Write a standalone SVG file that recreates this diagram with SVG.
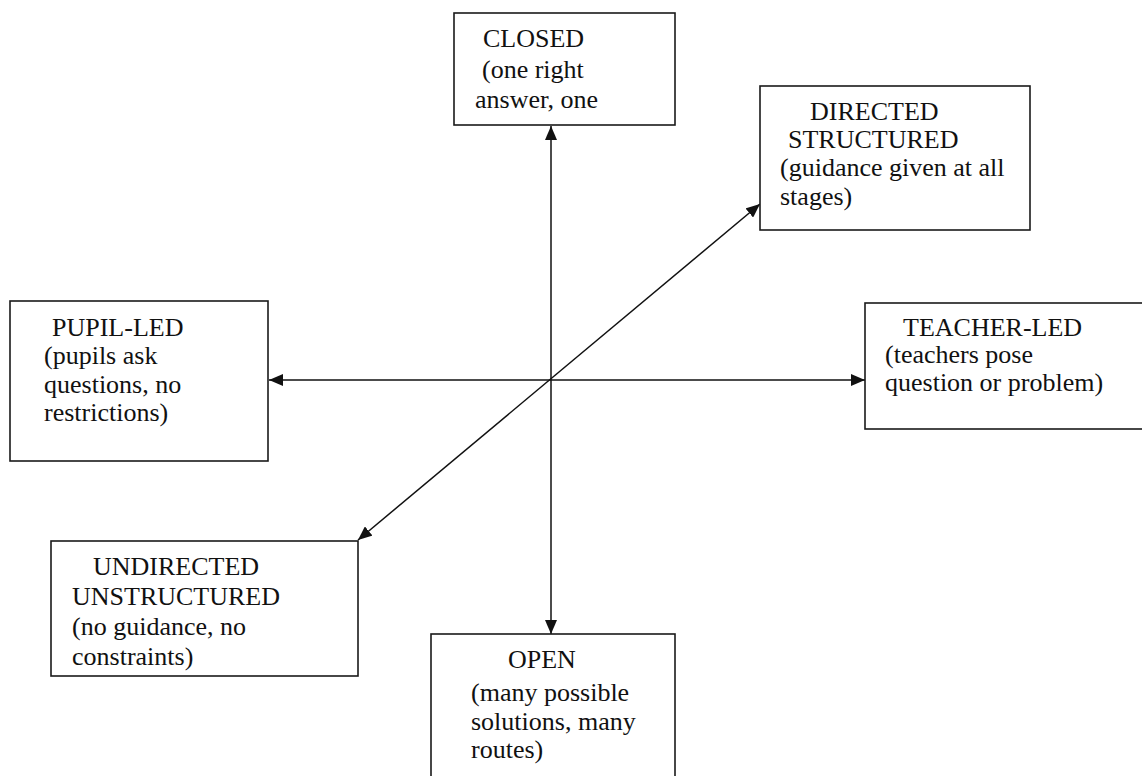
<svg xmlns="http://www.w3.org/2000/svg" width="1142" height="776" viewBox="0 0 1142 776">
<style>
.box{fill:#fff;stroke:#1a1a1a;stroke-width:1.6}
.t{font-family:"Liberation Serif","Times New Roman",serif;font-size:26px;fill:#111}
.c{stroke:#111;stroke-width:1.5;fill:none}
</style>
<defs>
<marker id="ah" viewBox="0 0 14 12" refX="14" refY="6" markerWidth="14" markerHeight="12" markerUnits="userSpaceOnUse" orient="auto-start-reverse">
<path d="M0,0 L14,6 L0,12 z" fill="#111"/>
</marker>
</defs>
<rect width="1142" height="776" fill="#fff"/>
<g id="connectors">
<line class="c" x1="551" y1="126" x2="551" y2="634" marker-start="url(#ah)" marker-end="url(#ah)"/>
<line class="c" x1="269" y1="380" x2="865" y2="380" marker-start="url(#ah)" marker-end="url(#ah)"/>
<line class="c" x1="358" y1="540" x2="760" y2="204" marker-start="url(#ah)" marker-end="url(#ah)"/>
</g>
<g id="closed">
<rect class="box" x="454" y="13" width="221" height="112"/>
<text class="t" x="483" y="47">CLOSED</text>
<text class="t" x="482" y="78">(one right</text>
<text class="t" x="475" y="108">answer, one</text>
</g>
<g id="directed">
<rect class="box" x="760" y="86" width="270" height="144"/>
<text class="t" x="810" y="120">DIRECTED</text>
<text class="t" x="788" y="148">STRUCTURED</text>
<text class="t" x="780" y="176">(guidance given at all</text>
<text class="t" x="780" y="205">stages)</text>
</g>
<g id="pupil-led">
<rect class="box" x="10" y="301" width="258" height="160"/>
<text class="t" x="52" y="336">PUPIL-LED</text>
<text class="t" x="44" y="364">(pupils ask</text>
<text class="t" x="44" y="393">questions, no</text>
<text class="t" x="44" y="421">restrictions)</text>
</g>
<g id="teacher-led">
<rect class="box" x="865" y="303" width="282" height="126"/>
<text class="t" x="903" y="336">TEACHER-LED</text>
<text class="t" x="885" y="363">(teachers pose</text>
<text class="t" x="885" y="391">question or problem)</text>
</g>
<g id="undirected">
<rect class="box" x="51" y="541" width="307" height="135"/>
<text class="t" x="93" y="575">UNDIRECTED</text>
<text class="t" x="72" y="605">UNSTRUCTURED</text>
<text class="t" x="72" y="635">(no guidance, no</text>
<text class="t" x="72" y="665">constraints)</text>
</g>
<g id="open">
<rect class="box" x="431" y="634" width="244" height="160"/>
<text class="t" x="508" y="668">OPEN</text>
<text class="t" x="471" y="701">(many possible</text>
<text class="t" x="471" y="730">solutions, many</text>
<text class="t" x="471" y="758">routes)</text>
</g>
</svg>
